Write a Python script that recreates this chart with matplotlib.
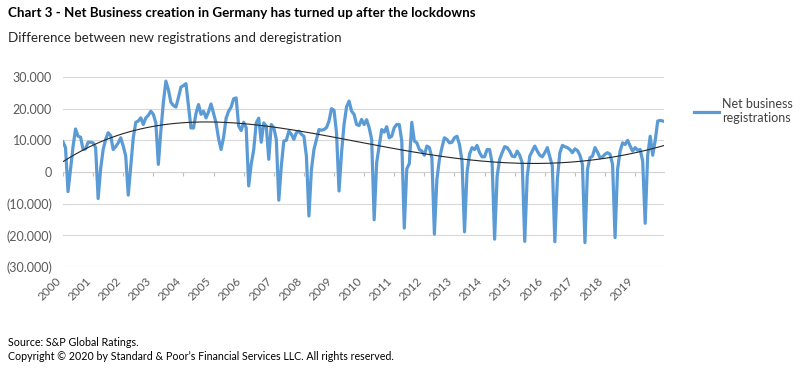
import numpy as np
import matplotlib
matplotlib.use("Agg")
import matplotlib.pyplot as plt
from matplotlib.ticker import FuncFormatter

plt.rcParams['font.family'] = ['Lato', 'DejaVu Sans']

# monthly net business registrations, one row per year (12 values)
net_reg = [
    9500, 7700, -6200, 1000, 8000, 13600, 11300, 11000, 7100, 7300, 9400, 9400,
    9200, 7700, -8400, 1000, 7100, 10300, 12400, 11500, 7100, 8000, 9200, 10800,
    8200, 5000, -7300, 1900, 10800, 15700, 16100, 17100, 15000, 17100, 17900, 19200,
    18200, 15500, 2400, 13000, 22000, 28700, 26000, 22000, 21000, 20500, 23500, 26800,
    27300, 27900, 21000, 13900, 13900, 18500, 21300, 18200, 19200, 17100, 19000, 21500,
    18500, 15500, 10500, 7100, 11000, 17000, 19200, 20500, 23100, 23400, 14500, 13100,
    15700, 14000, -4400, 2500, 7000, 15500, 17000, 9400, 15500, 14500, 4000, 15000,
    14000, 10300, -8900, 1900, 9800, 10000, 12900, 11900, 10300, 12400, 12900, 11900,
    11300, 5000, -13900, 800, 7100, 10300, 13400, 13200, 13400, 14000, 16100, 20000,
    19500, 12400, -6000, 6100, 15000, 20600, 22400, 19200, 18200, 15000, 14700, 16600,
    15000, 16500, 14000, 10300, -15100, 3000, 8200, 13400, 12600, 14300, 10800, 11300,
    14000, 15000, 15000, 9800, -17700, 1000, 2600, 15700, 9800, 9200, 7100, 6600,
    5300, 8200, 7700, 4500, -19600, -2300, 4000, 7700, 10800, 10300, 9200, 9400,
    10800, 11300, 8700, 3500, -18900, -200, 5600, 7700, 7100, 8400, 6100, 4800,
    4800, 7100, 7100, 2900, -21200, -1300, 4000, 6100, 8000, 7700, 6600, 5000,
    4800, 6600, 5300, 2900, -21900, -1300, 5000, 6600, 8200, 6600, 5300, 4800,
    6100, 7700, 4800, 1900, -22000, -2300, 6100, 8400, 8000, 7700, 7100, 6100,
    7300, 6800, 5300, 2400, -22300, 800, 4500, 5000, 7700, 6300, 4500, 4800,
    5600, 6100, 5600, 2400, -20700, 800, 6600, 9200, 8700, 10000, 8200, 6600,
    7700, 6900, 7100, 3500, -16200, 5300, 11300, 5300, 10000, 16100, 16300, 16100,
]
years = [str(y) for y in range(2000, 2020)]
y_ticks = [30000, 20000, 10000, 0, -10000, -20000, -30000]

blue = '#5B9BD5'
grey_txt = '#595959'

x = np.arange(len(net_reg))
vals = np.array(net_reg, dtype=float)
# polynomial trend line as in Excel
coef = np.polyfit(x, vals, 4)
trend_x = np.linspace(0, len(net_reg) + 1, 300)
trend = np.polyval(coef, trend_x)

fig = plt.figure(figsize=(8, 3.78), dpi=100)
ax = fig.add_axes([63 / 800, 1 - 267 / 378, (664 - 63) / 800, 190 / 378])

for v in y_ticks:
    if v != 0:
        ax.axhline(v, color='#D9D9D9', lw=0.8, zorder=0)

ax.plot(x, vals, color=blue, lw=2.3, solid_joinstyle='round', label='Net business\nregistrations', zorder=3)
ax.plot(trend_x, trend, color='#262626', lw=0.8, zorder=4)

ax.set_xlim(0, 239.5)
ax.set_ylim(-30000, 30000)
ax.set_yticks(y_ticks)

def fmt(v, pos):
    if v == 0:
        return '0'
    s = '{:,.0f}'.format(abs(v)).replace(',', '.')
    return '(' + s + ')' if v < 0 else s

ax.yaxis.set_major_formatter(FuncFormatter(fmt))
ax.set_xticks(np.arange(0, len(years) * 12, 12))
ax.set_xticklabels(years, rotation=45, ha='right', va='top')
ax.tick_params(axis='x', length=0, pad=6, labelsize=8.5, labelcolor=grey_txt)
ax.tick_params(axis='y', length=0, pad=8, labelsize=9, labelcolor=grey_txt)
for sp in ax.spines.values():
    sp.set_visible(False)

# zero axis line with small tick marks
sec = ax.secondary_xaxis(0.5)
sec.xaxis.set_ticks_position('bottom')
sec.set_xticks(np.arange(0, len(years) * 12, 12))
sec.set_xticklabels([])
sec.tick_params(length=3, color='#BFBFBF', width=0.8, direction='out')
for sp in sec.spines.values():
    sp.set_color('#D0D0D0')
    sp.set_linewidth(0.8)

ax.legend(loc='upper left', bbox_to_anchor=(683 / 800, 1 - 87 / 378), bbox_transform=fig.transFigure,
          frameon=False, fontsize=9, handlelength=2.0, handletextpad=0.25, labelcolor='#404040')

fig.text(8 / 800, 1 - 13 / 378, 'Chart 3 - Net Business creation in Germany has turned up after the lockdowns',
         fontsize=9.6, fontweight='bold', va='center', ha='left')
fig.text(8 / 800, 1 - 38 / 378, 'Difference between new registrations and deregistration',
         fontsize=9.6, va='center', ha='left', color='#262626')
fig.text(8 / 800, 1 - 342 / 378, 'Source: S&P Global Ratings.', fontsize=7.7, va='center', ha='left')
fig.text(8 / 800, 1 - 356 / 378,
         'Copyright \u00a9 2020 by Standard & Poor\u2019s Financial Services LLC. All rights reserved.',
         fontsize=7.7, va='center', ha='left')

fig.savefig('out.png', dpi=100)
